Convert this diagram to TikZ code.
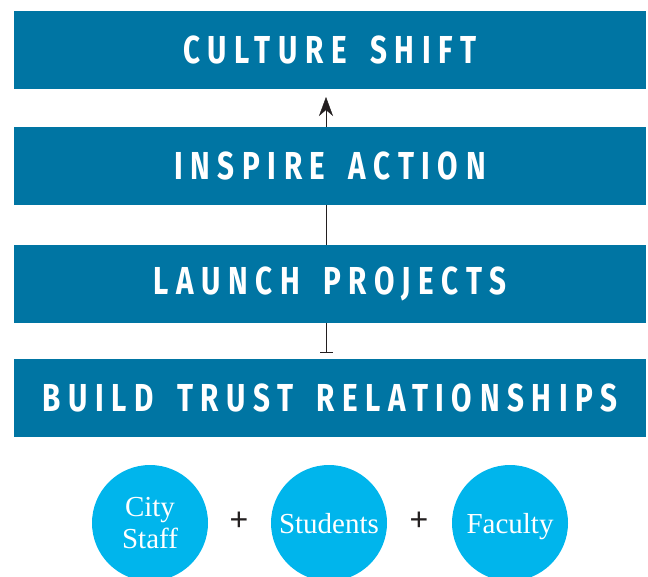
\documentclass[tikz,border=0pt]{standalone}
\usepackage{fontspec}
\setmainfont{Liberation Serif}
\newfontfamily\barfont[FakeStretch=0.76,LetterSpace=19.5,WordSpace=1.6]{Fira Sans}
\newfontfamily\plusfont{Liberation Sans}
\usetikzlibrary{positioning,arrows.meta,backgrounds}
\definecolor{barblue}{HTML}{0075A3}
\definecolor{dotblue}{HTML}{00B5EC}
\definecolor{inkgray}{HTML}{231F20}

\begin{document}
\begin{tikzpicture}[x=1pt,y=-1pt,>={Stealth[length=19pt,width=14pt,inset=6pt]},
                    line width=2pt,outer sep=0pt]
  \tikzstyle{stage}=[fill=barblue,text=white,minimum width=632pt,minimum height=78pt,
                     inner sep=0pt,font=\barfont\bfseries\fontsize{39}{39}\selectfont]
  \tikzstyle{group}=[circle,fill=dotblue,text=white,minimum size=116pt,inner sep=0pt,
                     align=center,font=\fontsize{29}{32}\selectfont]
  \tikzstyle{plus}=[text=inkgray,inner sep=0pt,font=\plusfont\fontsize{32}{32}\selectfont]

  \useasboundingbox (0,0) rectangle (648,576);

  \node[stage] (culture) at (330,50)          {CULTURE SHIFT};
  \node[stage] (inspire) [below=38pt of culture] {INSPIRE ACTION};
  \node[stage] (launch)  [below=40pt of inspire] {LAUNCH PROJECTS};
  \node[stage] (trust)   [below=36pt of launch]  {BUILD TRUST RELATIONSHIPS};

  \node[group]                (staff)    at (150,523) {City\\Staff};
  \node[group,text depth=0pt] (students) at (329,523) {Students};
  \node[group,text depth=0pt] (faculty)  at (510,523) {Faculty};
  \node[plus]  (plusA)    at (239,521) {+};
  \node[plus]  (plusB)    at (419,521) {+};

  \begin{scope}[on background layer]
    \draw[inkgray,{Bar[width=13pt]}->]
      ([xshift=-4pt,yshift=7pt]trust.north) -- ([xshift=-4pt,yshift=-8pt]culture.south);
  \end{scope}
\end{tikzpicture}
\end{document}
